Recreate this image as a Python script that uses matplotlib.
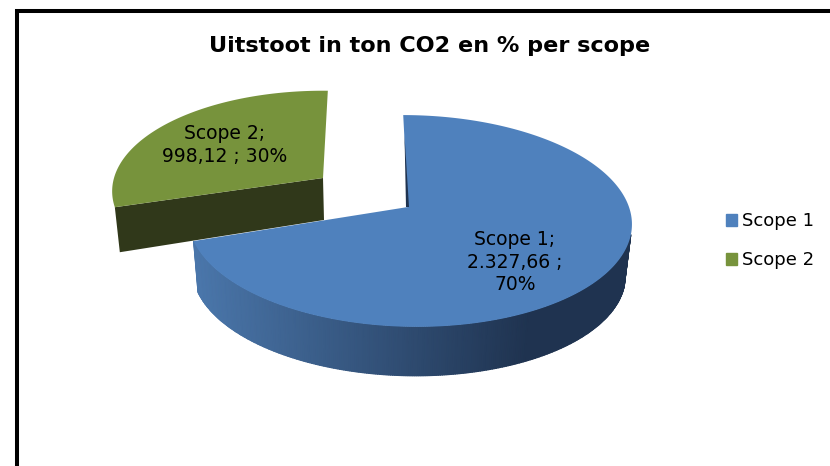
import numpy as np
import matplotlib
matplotlib.use("Agg")
import matplotlib.pyplot as plt
from matplotlib.colors import LinearSegmentedColormap
from matplotlib.patches import Patch

categories = ["Scope 1", "Scope 2"]
values = [2327.66, 998.12]
data_labels = ["Scope 1;\n2.327,66 ;\n70%", "Scope 2;\n998,12 ; 30%"]
title = "Uitstoot in ton CO2 en % per scope"

BLUE = "#4f81bd"
GREEN = "#77933c"
GREEN_DARK = "#30381a"
SIDE_LIGHT = "#4a76aa"
SIDE_DARK = "#1f3350"

# perspective of the tilted disc, in pixels
A, B, K = 220, 104, 0.132


def disc(angles, cx, cy, scale=1.0, shear=0.0):
    t = np.radians(angles)
    w = 1 + K * np.sin(t)
    dx = scale * A * np.cos(t) / w
    return cx + dx, cy - scale * B * np.sin(t) / w + shear * dx


fig = plt.figure(figsize=(8.3, 4.66), dpi=100)
ax = fig.add_axes([0, 0, 1, 1])
ax.set_xlim(0, 830)
ax.set_ylim(466, 0)
ax.axis("off")

# frame of the chart, cut off by the image on two sides
ax.plot([17, 17, 830], [466, 10.5, 10.5], color="black", lw=2.9, solid_joinstyle="miter")

total = sum(values)
sweeps = [v / total * 360 for v in values]
start1 = 92
end1 = start1 - sweeps[0]
start2 = end1 - 3.5
end2 = start2 - sweeps[1]

# Scope 2, pulled out of the pie
cx2, cy2 = 323, 178
t2 = np.linspace(start2, end2, 120)
x2, y2 = disc(t2, cx2, cy2, 0.95)
ax.fill([cx2, x2[0], x2[0] + 5, cx2 + 1], [cy2, y2[0], y2[0] + 45, cy2 + 42],
        color=GREEN_DARK, lw=0, zorder=2)
ax.fill(np.r_[cx2, x2], np.r_[cy2, y2], color=GREEN, lw=0, zorder=3)

# Scope 1 outer wall, shaded from left to right
cx1, cy1 = 408, 207
arc_x = 410
t1 = np.linspace(start1, end1, 500)
x1, y1 = disc(t1, arc_x, cy1, shear=0.015)
xl, yl = disc(t1, arc_x - 1, cy1 + 52, 0.975, shear=0.015)
front = t1 <= -13
cmap = LinearSegmentedColormap.from_list("wall", [SIDE_LIGHT, SIDE_DARK])
shade = np.clip((x1[front] - 196) / (530 - 196), 0, 1)
ax.pcolormesh(np.vstack([x1[front], xl[front]]), np.vstack([y1[front], yl[front]]),
              np.vstack([shade, shade]), shading="gouraud", cmap=cmap, vmin=0, vmax=1, zorder=4)

# Scope 1 top
ax.fill(np.r_[cx1, x1], np.r_[cy1, y1], color=BLUE, lw=0, zorder=5)
ax.fill([404.5, 409, 406], [135, 207, 207], color=SIDE_DARK, lw=0, zorder=6)

ax.text(515, 262, data_labels[0], ha="center", va="center", fontsize=13.5,
        linespacing=1.25, color="black", zorder=7)
ax.text(225, 145, data_labels[1], ha="center", va="center", fontsize=13.5,
        linespacing=1.25, color="black", zorder=7)
ax.text(430, 46, title, ha="center", va="center", fontsize=16.1, fontweight="bold")

handles = [Patch(color=BLUE), Patch(color=GREEN)]
fig.legend(handles, categories, loc="center left", bbox_to_anchor=(0.8747, 0.483),
           frameon=False, fontsize=13, handlelength=0.62, handleheight=0.62,
           handletextpad=0.25, labelspacing=1.16, borderpad=0, borderaxespad=0)

fig.savefig("out.png", dpi=100)
